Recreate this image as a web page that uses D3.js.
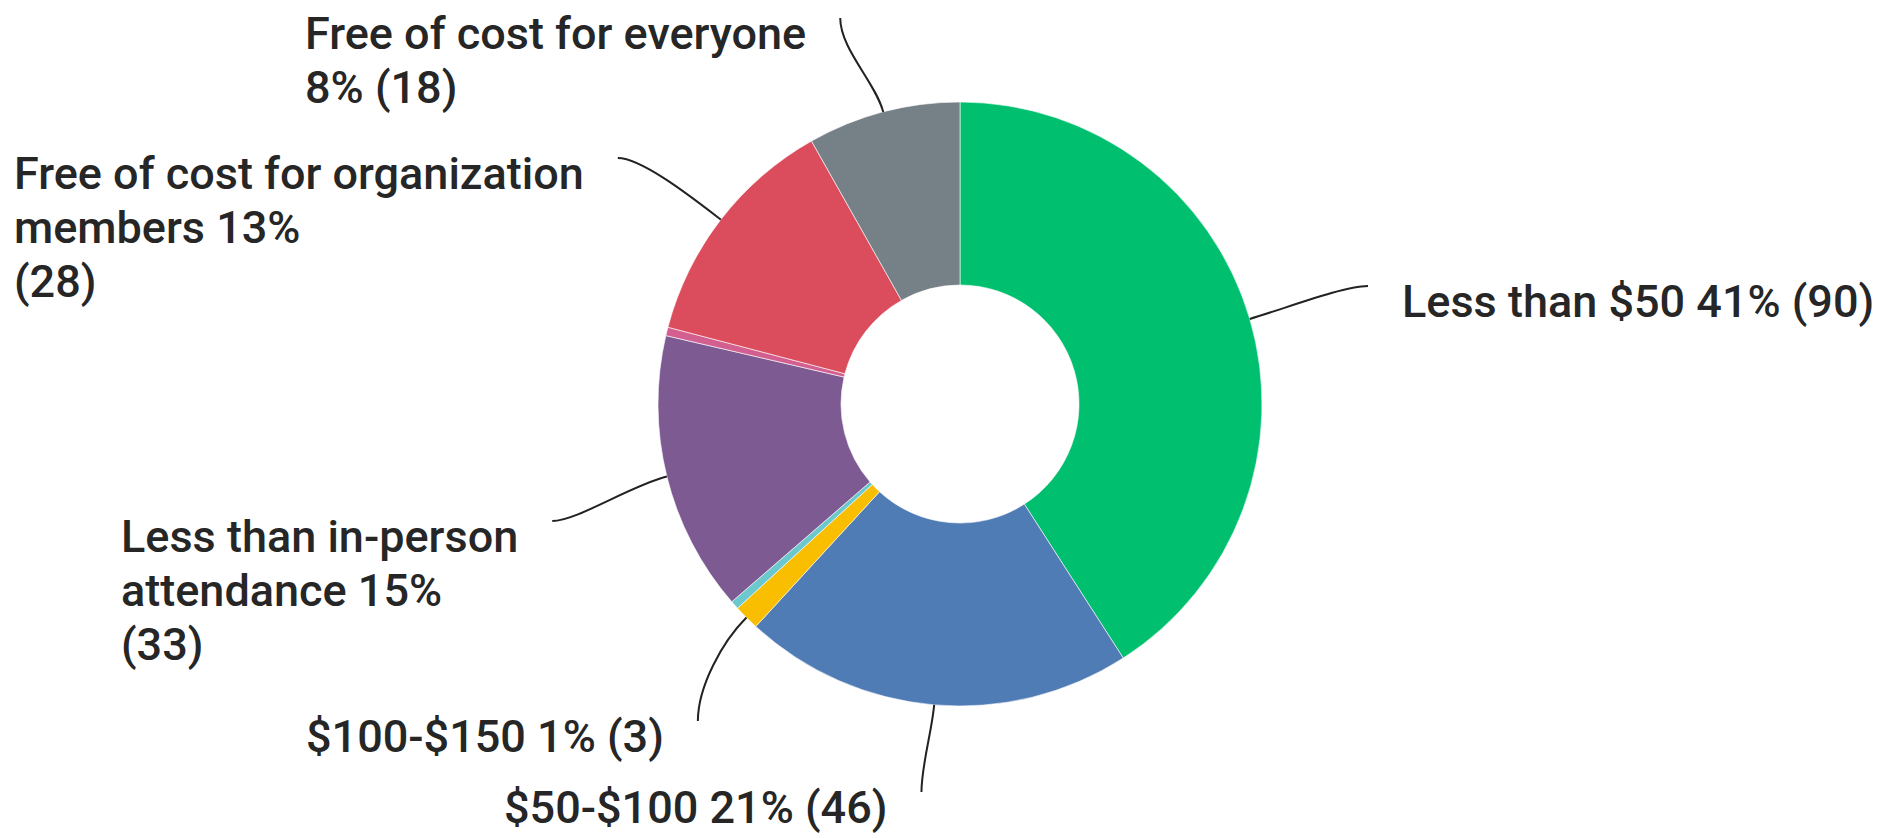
<!DOCTYPE html>
<html>
<head>
<meta charset="utf-8">
<script src="https://cdn.jsdelivr.net/npm/d3@7"></script>
<style>
  html, body { margin: 0; padding: 0; background: #ffffff; }
  svg { display: block; }
</style>
</head>
<body>
<svg id="chart" width="1898" height="838"></svg>
<script>
// ---- data ----
const categories = [
  "Less than $50",
  "$50-$100",
  "$100-$150",
  "Unlabeled (light blue)",
  "Less than in-person attendance",
  "Unlabeled (pink)",
  "Free of cost for organization members",
  "Free of cost for everyone"
];
const responses = [90, 46, 3, 1, 33, 1, 28, 18];
const sliceColors = ["#00BF6F", "#507CB6", "#F9BE00", "#6BC8CD", "#7D5A91", "#D25F90", "#DB4D5C", "#768087"];

// ---- layout (positions / wrapping of labels, not data) ----
const labelLayout = [
  { x: 1402, y: 317, side: "right", words: [6] },
  { x: 504,  y: 823, side: "left",  words: [4] },
  { x: 306,  y: 752, side: "left",  words: [3] },
  null,
  { x: 121,  y: 552, side: "left",  words: [3, 2, 1] },
  null,
  { x: 14,   y: 189, side: "left",  words: [5, 2, 1] },
  { x: 305,  y: 49,  side: "left",  words: [5, 2] }
];

const W = 1898, H = 838;
const cx = 960, cy = 404;
const rOuter = 302, rInner = 119;
const fontSize = 45, lineH = 54, gap = 34;

const svg = d3.select("#chart");
const total = d3.sum(responses);

const data = categories.map((c, i) => ({ name: c, value: responses[i], color: sliceColors[i], layout: labelLayout[i] }));

const pie = d3.pie().sort(null).value(d => d.value).startAngle(0).endAngle(2 * Math.PI);
const arc = d3.arc().innerRadius(rInner).outerRadius(rOuter);
const arcs = pie(data);

const g = svg.append("g").attr("transform", `translate(${cx},${cy})`);
g.selectAll("path.slice")
  .data(arcs)
  .enter().append("path")
  .attr("class", "slice")
  .attr("d", arc)
  .attr("fill", d => d.data.color)
  .attr("stroke", "rgba(255,255,255,0.6)")
  .attr("stroke-width", 1);

// labels
const labelsG = svg.append("g")
  .attr("font-family", "Roboto, 'Noto Sans', sans-serif")
  .attr("font-size", fontSize)
  .attr("font-weight", 500)
  .attr("fill", "#262626");

arcs.forEach(a => {
  const L = a.data.layout;
  if (!L) return;
  const pct = Math.round(a.data.value / total * 100);
  const full = `${a.data.name} ${pct}% (${a.data.value})`;
  const words = full.split(" ");
  const lines = [];
  let k = 0;
  L.words.forEach(n => { lines.push(words.slice(k, k + n).join(" ")); k += n; });
  if (k < words.length) lines[lines.length - 1] += " " + words.slice(k).join(" ");

  const t = labelsG.append("text").attr("x", L.x).attr("y", L.y);
  lines.forEach((ln, i) => {
    t.append("tspan").attr("x", L.x).attr("y", L.y + i * lineH).text(ln);
  });
  const firstW = t.select("tspan").node().getComputedTextLength();

  // leader line
  const mid = (a.startAngle + a.endAngle) / 2;
  const ux = Math.sin(mid), uy = -Math.cos(mid);
  const S = [cx + ux * rOuter, cy + uy * rOuter];
  const E = L.side === "left" ? [L.x + firstW + gap, L.y - 31] : [L.x - gap, L.y - 31];
  const dx = E[0] - S[0], dy = E[1] - S[1];
  const dist = Math.hypot(dx, dy);
  const C1 = [S[0] + ux * dist * 0.3, S[1] + uy * dist * 0.3];
  let C2;
  if (Math.abs(dx) > Math.abs(dy)) C2 = [E[0] - Math.sign(dx) * dist * 0.2, E[1]];
  else C2 = [E[0], E[1] - Math.sign(dy) * dist * 0.3];
  const p = d3.path();
  p.moveTo(S[0], S[1]);
  p.bezierCurveTo(C1[0], C1[1], C2[0], C2[1], E[0], E[1]);
  svg.append("path")
    .attr("d", p.toString())
    .attr("fill", "none")
    .attr("stroke", "#222")
    .attr("stroke-width", 2);
});
</script>
</body>
</html>
